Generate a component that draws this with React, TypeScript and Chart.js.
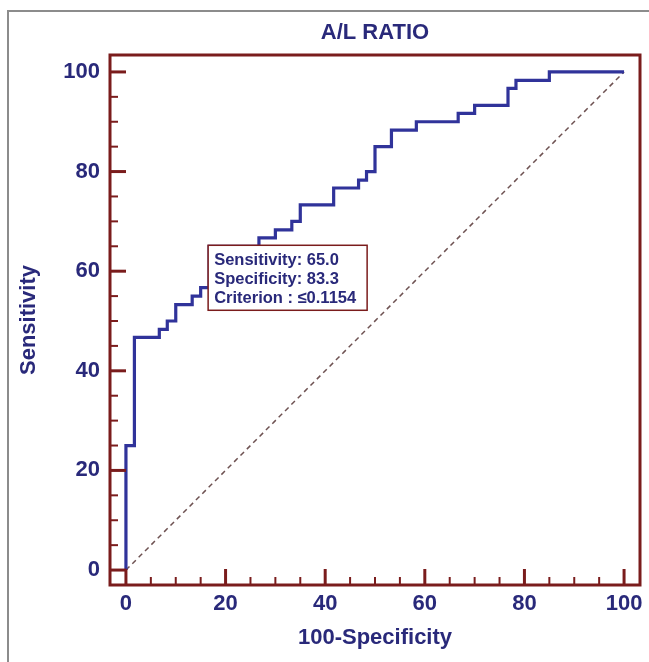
import { useEffect, useRef } from 'react';
import { Chart, registerables } from 'chart.js';

Chart.register(...registerables);

// ROC operating points (100-Specificity, Sensitivity)
const rocFpr = [0, 0, 1.7, 6.7, 8.3, 10, 13.3, 15, 16.7, 26.7, 30, 33.3, 35, 41.7, 46.7, 48.3, 50, 53.3, 58.3, 66.7, 70, 76.7, 78.3, 85, 100];
const rocTpr = [0, 25, 46.7, 48.3, 50, 53.3, 55, 56.7, 65, 66.7, 68.3, 70, 73.3, 76.7, 78.3, 80, 85, 88.3, 90, 91.7, 93.3, 96.7, 98.3, 100, 100];

// reference (chance) line
const refX = [0, 100];
const refY = [0, 100];

const xTickValues = [0, 20, 40, 60, 80, 100];
const yTickValues = [0, 20, 40, 60, 80, 100];
const xTickLabels = ['0', '20', '40', '60', '80', '100'];
const yTickLabels = ['0', '20', '40', '60', '80', '100'];

const chartTitle = 'A/L RATIO';
const xTitle = '100-Specificity';
const yTitle = 'Sensitivity';

// optimal cut-off
const cutSensitivity = 65.0;
const cutSpecificity = 83.3;
const cutCriterion = '≤0.1154';
const boxLines = [
  `Sensitivity: ${cutSensitivity.toFixed(1)}`,
  `Specificity: ${cutSpecificity.toFixed(1)}`,
  `Criterion : ${cutCriterion}`,
];

const FONT = "'Liberation Sans', Arial, sans-serif";
const NAVY = '#29297a';
const CURVE = '#30339a';
const FRAME = '#7a1c1c';

const framePlugin = {
  id: 'rocFrame',
  afterDraw(chart: any) {
    const { ctx, chartArea: a, scales } = chart;
    const x = scales.x;
    const y = scales.y;
    ctx.save();
    ctx.strokeStyle = FRAME;
    ctx.lineCap = 'butt';
    // ticks (inward)
    for (let v = 0; v <= 100; v += 5) {
      const major = v % 20 === 0;
      const len = major ? 16 : 8;
      ctx.lineWidth = major ? 3 : 2;
      const px = x.getPixelForValue(v);
      ctx.beginPath();
      ctx.moveTo(px, a.bottom);
      ctx.lineTo(px, a.bottom - len);
      ctx.stroke();
      const py = y.getPixelForValue(v);
      ctx.beginPath();
      ctx.moveTo(a.left, py);
      ctx.lineTo(a.left + len, py);
      ctx.stroke();
    }
    // frame
    ctx.lineWidth = 3;
    ctx.strokeRect(a.left, a.top, a.right - a.left, a.bottom - a.top);

    // annotation box anchored at cut-off point
    const bx = x.getPixelForValue(100 - cutSpecificity) - 1;
    const by = y.getPixelForValue(cutSensitivity) - 1;
    const bw = 159;
    const bh = 65;
    ctx.fillStyle = '#ffffff';
    ctx.fillRect(bx, by, bw, bh);
    ctx.lineWidth = 1.5;
    ctx.strokeStyle = FRAME;
    ctx.strokeRect(bx, by, bw, bh);
    ctx.fillStyle = NAVY;
    ctx.font = `bold 16.5px ${FONT}`;
    ctx.textAlign = 'left';
    ctx.textBaseline = 'middle';
    boxLines.forEach((t, i) => {
      ctx.fillText(t, bx + 6, by + 15 + i * 19);
    });
    ctx.restore();
  },
};

export default function App() {
  const ref = useRef<HTMLCanvasElement | null>(null);

  useEffect(() => {
    if (!ref.current) return;
    const stepData: { x: number; y: number }[] = [{ x: rocFpr[0], y: rocTpr[0] }];
    for (let i = 1; i < rocFpr.length; i++) {
      stepData.push({ x: rocFpr[i], y: rocTpr[i - 1] });
      stepData.push({ x: rocFpr[i], y: rocTpr[i] });
    }
    const refData = refX.map((v, i) => ({ x: v, y: refY[i] }));

    const chart = new Chart(ref.current, {
      type: 'line',
      data: {
        datasets: [
          {
            data: stepData,
            borderColor: CURVE,
            borderWidth: 3.2,
            pointRadius: 0,
            fill: false,
            tension: 0,
            borderJoinStyle: 'miter',
          },
          {
            data: refData,
            borderColor: '#6e5252',
            borderWidth: 1.5,
            borderDash: [5, 4],
            pointRadius: 0,
            fill: false,
          },
        ],
      },
      plugins: [framePlugin],
      options: {
        animation: false,
        responsive: false,
        devicePixelRatio: 1,
        layout: { padding: { left: 0, right: 9, top: 0, bottom: 0 } },
        plugins: {
          legend: { display: false },
          tooltip: { enabled: false },
          title: {
            display: true,
            text: chartTitle,
            fullSize: false,
            color: NAVY,
            font: { family: FONT, size: 22, weight: 'bold', lineHeight: 1.2 },
            padding: { top: 20, bottom: 8.6 },
          },
        },
        scales: {
          x: {
            type: 'linear',
            min: -3.2,
            max: 103.2,
            afterBuildTicks: (s: any) => {
              s.ticks = xTickValues.map((v) => ({ value: v }));
            },
            afterFit: (s: any) => {
              s.height = 77;
            },
            grid: { display: false, drawTicks: false },
            border: { display: false },
            ticks: {
              padding: 6,
              color: NAVY,
              font: { family: FONT, size: 22, weight: 'bold', lineHeight: 1.2 },
              callback: (v: any) => {
                const i = xTickValues.indexOf(Number(v));
                return i >= 0 ? xTickLabels[i] : '';
              },
            },
            title: {
              display: true,
              text: xTitle,
              color: NAVY,
              font: { family: FONT, size: 22, weight: 'bold', lineHeight: 1.2 },
              padding: { top: 0, bottom: 11 },
            },
          },
          y: {
            type: 'linear',
            min: -3,
            max: 103.4,
            afterBuildTicks: (s: any) => {
              s.ticks = yTickValues.map((v) => ({ value: v }));
            },
            afterFit: (s: any) => {
              s.width = 110;
            },
            grid: { display: false, drawTicks: false },
            border: { display: false },
            ticks: {
              padding: 10,
              color: NAVY,
              font: { family: FONT, size: 22, weight: 'bold', lineHeight: 1.2 },
              callback: (v: any) => {
                const i = yTickValues.indexOf(Number(v));
                return i >= 0 ? yTickLabels[i] : '';
              },
            },
            title: {
              display: true,
              text: yTitle,
              color: NAVY,
              font: { family: FONT, size: 22, weight: 'bold', lineHeight: 1.2 },
              padding: { top: 16, bottom: 0 },
            },
          },
        },
      },
    } as any);
    return () => chart.destroy();
  }, []);

  return (
    <div style={{ position: 'absolute', left: 0, top: 0, width: 649, height: 662, overflow: 'hidden', background: '#ffffff' }}>
      <div
        style={{
          position: 'absolute',
          left: 7,
          top: 10,
          width: 700,
          height: 700,
          borderLeft: '2px solid #8c8c8c',
          borderTop: '2px solid #8c8c8c',
        }}
      />
      <canvas ref={ref} width={649} height={662} style={{ position: 'absolute', left: 0, top: 0 }} />
    </div>
  );
}
